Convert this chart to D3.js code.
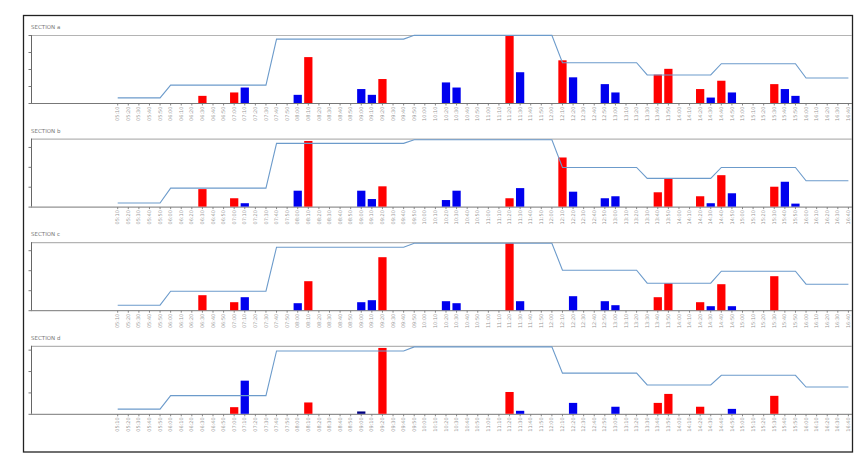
<!DOCTYPE html>
<html>
<head>
<meta charset="utf-8">
<script src="https://cdn.jsdelivr.net/npm/d3@7"></script>
<style>
  body { margin: 0; background: #fff; }
  text { font-family: "DejaVu Sans", sans-serif; }
</style>
</head>
<body>
<svg id="chart"></svg>
<script>
// time slots along the x axis (labels too small to read, estimated)
var times = ("05:10 05:20 05:30 05:40 05:50 06:00 06:10 06:20 06:30 06:40 06:50 07:00 07:10 07:20 " +
  "07:30 07:40 07:50 08:00 08:10 08:20 08:30 08:40 08:50 09:00 09:10 09:20 09:30 09:40 " +
  "09:50 10:00 10:10 10:20 10:30 10:40 10:50 11:00 11:10 11:20 11:30 11:40 11:50 12:00 " +
  "12:10 12:20 12:30 12:40 12:50 13:00 13:10 13:20 13:30 13:40 13:50 14:00 14:10 14:20 " +
  "14:30 14:40 14:50 15:00 15:10 15:20 15:30 15:40 15:50 16:00 16:10 16:20 16:30 16:40").split(" ")

var sections = ["SECTION a", "SECTION b", "SECTION c", "SECTION d"]
var yMax = [4, 3.42, 3.4, 3.18]

// step line vertices: [slot index, value]
var lineA = [[0,0.3],[4,0.3],[5,1.05],[14,1.05],[15,3.76],[27,3.76],[28,3.98],[41,3.98],[42,2.37],[49,2.37],[50,1.65],[56,1.65],[57,2.31],[64,2.31],[65,1.47],[69,1.47]]
var lineB = [[0,0.18],[4,0.18],[5,0.93],[14,0.93],[15,3.18],[27,3.18],[28,3.36],[41,3.36],[42,1.97],[49,1.97],[50,1.42],[56,1.42],[57,1.97],[64,1.97],[65,1.3],[69,1.3]]
var lineC = [[0,0.25],[4,0.25],[5,0.95],[14,0.95],[15,3.15],[27,3.15],[28,3.35],[41,3.35],[42,2.0],[49,2.0],[50,1.35],[56,1.35],[57,1.95],[64,1.95],[65,1.3],[69,1.3]]
var lineD = [[0,0.22],[4,0.22],[5,0.85],[14,0.85],[15,2.94],[27,2.94],[28,3.13],[41,3.13],[42,1.9],[49,1.9],[50,1.35],[56,1.35],[57,1.8],[64,1.8],[65,1.25],[69,1.25]]

// bars: [slot index, value]
var redA = [[8,0.42],[11,0.62],[18,2.7],[25,1.41],[37,3.94],[42,2.51],[51,1.67],[52,2.01],[55,0.82],[57,1.31],[62,1.11]]
var blueA = [[12,0.91],[17,0.48],[23,0.82],[24,0.48],[31,1.21],[32,0.91],[38,1.81],[43,1.51],[46,1.11],[47,0.62],[56,0.32],[58,0.62],[63,0.82],[64,0.42]]
var redB = [[8,0.88],[11,0.42],[18,3.3],[25,1.02],[37,0.42],[42,2.47],[51,0.72],[52,1.43],[55,0.52],[57,1.58],[62,1.0]]
var blueB = [[12,0.17],[17,0.8],[23,0.8],[24,0.38],[31,0.33],[32,0.8],[38,0.93],[43,0.75],[46,0.42],[47,0.52],[56,0.17],[58,0.67],[63,1.25],[64,0.15]]
var redC = [[8,0.75],[11,0.4],[18,1.45],[25,2.65],[37,3.35],[51,0.65],[52,1.35],[55,0.4],[57,1.3],[62,1.7]]
var blueC = [[12,0.65],[17,0.35],[23,0.4],[24,0.5],[31,0.45],[32,0.35],[38,0.45],[43,0.7],[46,0.45],[47,0.25],[56,0.2],[58,0.2]]
var redD = [[11,0.31],[18,0.53],[25,3.08],[37,1.02],[51,0.51],[52,0.93],[55,0.33],[62,0.84]]
var blueD = [[12,1.55],[23,0.11],[38,0.14],[43,0.51],[47,0.33],[58,0.23]]

var lines = [lineA, lineB, lineC, lineD]
var reds = [redA, redB, redC, redD]
var blues = [blueA, blueB, blueC, blueD]

var width = 858, height = 458
var left = 31, right = 852
var svg = d3.select("#chart").attr("width", width).attr("height", height)

svg.append("rect")
  .attr("x", 23.5).attr("y", 15.5)
  .attr("width", 829).attr("height", 436.5)
  .attr("fill", "none").attr("stroke", "#222").attr("stroke-width", 1.3)

var x = d3.scaleBand()
  .domain(times)
  .range([112.4, 853.7])
  .paddingInner(0.22)
  .paddingOuter(0.11)
var bw = x.bandwidth()
var cx = function(i){ return x(times[i]) + bw / 2 }

sections.forEach(function(name, k){
  var top = 35 + 103.6 * k
  var base = top + 68
  var y = d3.scaleLinear().domain([0, yMax[k]]).range([base, top])
  var g = svg.append("g")

  g.append("text")
    .attr("x", left).attr("y", top - 6)
    .attr("font-size", 5.5).attr("fill", "#777")
    .text(name)

  // frame lines of the plot
  g.append("line")
    .attr("x1", left).attr("x2", right).attr("y1", top + 0.5).attr("y2", top + 0.5)
    .attr("stroke", "#b4b4b4").attr("stroke-width", 1.2)
  g.append("line")
    .attr("x1", left + 0.5).attr("x2", left + 0.5).attr("y1", top).attr("y2", base)
    .attr("stroke", "#666").attr("stroke-width", 1)

  // y ticks only (no labels)
  var ya = d3.axisLeft(y).ticks(Math.floor(yMax[k])).tickSize(3).tickFormat("")
  g.append("g").attr("transform", "translate(" + (left + 0.5) + ",0)").call(ya)
    .call(function(s){ s.select(".domain").remove(); s.selectAll("line").attr("stroke", "#777") })

  // x axis
  var xa = d3.axisBottom(x).tickSize(2).tickSizeOuter(0)
  var xg = g.append("g").attr("transform", "translate(0," + (base + 0.5) + ")").call(xa)
  xg.select(".domain").remove()
  xg.selectAll("line").attr("stroke", "#888")
  xg.selectAll("text")
    .attr("font-size", 5).attr("fill", "#999")
    .attr("transform", "rotate(-90)")
    .attr("text-anchor", "end")
    .attr("dy", "0.32em")
    .attr("x", -3).attr("y", 0)
  g.append("line")
    .attr("x1", left).attr("x2", right).attr("y1", base + 0.5).attr("y2", base + 0.5)
    .attr("stroke", "#777").attr("stroke-width", 1)

  // bars
  g.append("g").selectAll("rect").data(reds[k]).enter().append("rect")
    .attr("x", function(d){ return x(times[d[0]]) })
    .attr("y", function(d){ return y(d[1]) })
    .attr("width", bw)
    .attr("height", function(d){ return base - y(d[1]) })
    .attr("fill", "#ff0000")
  g.append("g").selectAll("rect").data(blues[k]).enter().append("rect")
    .attr("x", function(d){ return x(times[d[0]]) })
    .attr("y", function(d){ return y(d[1]) })
    .attr("width", bw)
    .attr("height", function(d){ return base - y(d[1]) })
    .attr("fill", function(d){ return (k == 3 && d[0] == 23) ? "#000080" : "#0000ee" })

  // step line
  var path = d3.line()
    .x(function(d){ return cx(d[0]) })
    .y(function(d){ return y(d[1]) })
  g.append("path")
    .attr("d", path(lines[k]))
    .attr("fill", "none")
    .attr("stroke", "#6c9bcb")
    .attr("stroke-width", 1.1)
})
</script>
</body>
</html>
